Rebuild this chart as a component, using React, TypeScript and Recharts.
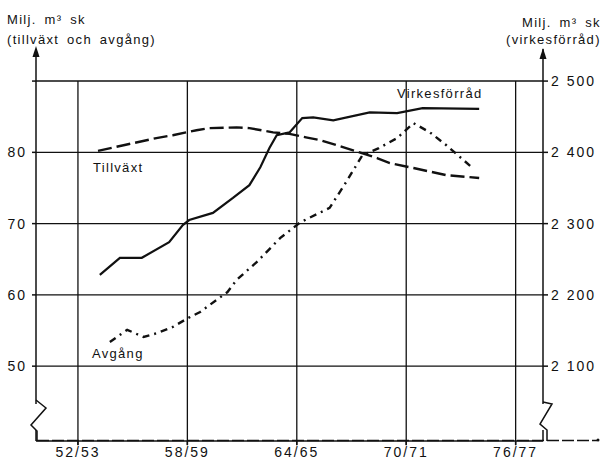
import React from 'react';
import { LineChart, Line, XAxis, YAxis, ReferenceLine } from 'recharts';

// x positions are in "year" units (52.5 = 52/53)
const tickYears = [52.5, 58.5, 64.5, 70.5, 76.5];
const tickLabels = ['52/53', '58/59', '64/65', '70/71', '76/77'];
const leftTicks = [50, 60, 70, 80, 90];
const rightTicks = [2100, 2200, 2300, 2400, 2500];

// Virkesförråd (right axis)
const virkYears = [53.7, 54.8, 56.0, 57.5, 58.25, 58.6, 59.9, 61.0, 61.9, 62.5, 63.0, 63.4, 64.1, 64.8, 65.4, 66.5, 68.5, 70.0, 71.4, 74.5];
const virkValues = [2228, 2252, 2252, 2274, 2298, 2305, 2315, 2336, 2354, 2379, 2406, 2424, 2428, 2448, 2449, 2445, 2456, 2455, 2462, 2461];

// Tillväxt (left axis)
const tillYears = [53.6, 55.0, 56.8, 57.7, 59.0, 59.7, 61.2, 61.9, 63.2, 64.1, 65.0, 65.8, 67.2, 68.9, 69.6, 70.9, 72.7, 74.5];
const tillValues = [80.2, 81.0, 82.0, 82.4, 83.1, 83.4, 83.5, 83.4, 82.8, 82.6, 82.1, 81.7, 80.6, 79.2, 78.5, 77.8, 76.8, 76.4];

// Avgång (left axis)
const avgYears = [54.25, 55.2, 56.1, 56.8, 57.7, 58.5, 59.2, 60.1, 60.7, 61.2, 62.3, 63.6, 64.7, 66.3, 67.2, 68.1, 69.0, 70.0, 70.9, 71.8, 72.7, 74.1];
const avgValues = [53.4, 55.1, 54.1, 54.6, 55.5, 56.7, 57.6, 59.3, 60.4, 62.1, 64.6, 68.0, 70.2, 72.2, 75.8, 79.6, 80.6, 82.0, 84.1, 82.8, 81.0, 77.9];

const toRows = (xs: number[], vs: number[]) => xs.map((x, i) => ({ x, v: vs[i] }));
const virkData = toRows(virkYears, virkValues);
const tillData = toRows(tillYears, tillValues);
const avgData = toRows(avgYears, avgValues);

const font = 'Liberation Sans, Arial, sans-serif';
const ink = '#111';
const tickStyle = { fill: ink, fontSize: 14, fontFamily: font, letterSpacing: 2 };
const textStyle: React.CSSProperties = { fontFamily: font, fontSize: 13, fill: ink, letterSpacing: 1.3, wordSpacing: 3 };

export default function App() {
  return (
    <div style={{ position: 'absolute', left: 0, top: 0, width: 603, height: 463, background: '#fff' }}>
      <LineChart width={603} height={463} margin={{ top: 49, right: 0, bottom: 0, left: 6 }}>
        <XAxis
          type="number"
          dataKey="x"
          domain={[50.2, 78.0]}
          ticks={tickYears}
          tickFormatter={(v: number) => tickLabels[tickYears.indexOf(v)] ?? ''}
          height={22}
          tick={tickStyle}
          tickSize={4}
          tickMargin={2}
          stroke={ink}
          strokeWidth={1.5}
          allowDataOverflow
        />
        <YAxis
          yAxisId="left"
          domain={[39.5, 94.5]}
          ticks={leftTicks}
          tickFormatter={(v: number) => (v === 90 ? '' : String(v))}
          width={30}
          tick={tickStyle}
          tickSize={4}
          tickMargin={5}
          stroke={ink}
          strokeWidth={1.5}
          allowDataOverflow
        />
        <YAxis
          yAxisId="right"
          orientation="right"
          domain={[1995, 2545]}
          ticks={rightTicks}
          tickFormatter={(v: number) => `${String(v)[0]} ${String(v).slice(1)}`}
          width={60}
          tick={tickStyle}
          tickSize={5}
          tickMargin={3}
          stroke={ink}
          strokeWidth={1.5}
          allowDataOverflow
        />
        {leftTicks.map((t) => (
          <ReferenceLine key={'h' + t} yAxisId="left" y={t} stroke={ink} strokeWidth={1.4} />
        ))}
        {tickYears.map((t) => (
          <ReferenceLine
            key={'v' + t}
            yAxisId="left"
            segment={[{ x: t, y: 38.9 }, { x: t, y: 90 }]}
            stroke={ink}
            strokeWidth={1.3}
            ifOverflow="visible"
          />
        ))}
        <Line yAxisId="right" data={virkData} dataKey="v" type="linear" stroke={ink} strokeWidth={2.2} dot={false} isAnimationActive={false} />
        <Line yAxisId="left" data={tillData} dataKey="v" type="linear" stroke={ink} strokeWidth={2.4} strokeDasharray="14 5" dot={false} isAnimationActive={false} />
        <Line yAxisId="left" data={avgData} dataKey="v" type="linear" stroke={ink} strokeWidth={2.4} strokeDasharray="7 5 2 5" dot={false} isAnimationActive={false} />
      </LineChart>
      <svg width={603} height={463} style={{ position: 'absolute', left: 0, top: 0, pointerEvents: 'none' }}>
        <text x={7} y={24} style={textStyle}>Milj. m³ sk</text>
        <text x={7} y={44} style={textStyle}>(tillväxt och avgång)</text>
        <text x={522} y={27} style={textStyle}>Milj. m³ sk</text>
        <text x={506} y={44} style={textStyle}>(virkesförråd)</text>
        <text x={93} y={172} style={textStyle}>Tillväxt</text>
        <text x={92} y={358} style={textStyle}>Avgång</text>
        <text x={397} y={98} style={textStyle}>Virkesförråd</text>
        {/* axis arrows */}
        <polygon points="36,46 32.5,57 39.5,57" fill={ink} />
        <polygon points="543,48 539.5,59 546.5,59" fill={ink} />
        {/* bottom axis line, extended past the right axis */}
        <line x1={37} y1={440.5} x2={597} y2={440.5} stroke={ink} strokeWidth={1.6} strokeDasharray="12 3" />
        <circle cx={598} cy={440} r={1.5} fill={ink} />
        {/* axis breaks */}
        <line x1={36} y1={404} x2={36} y2={430} stroke="#fff" strokeWidth={4} />
        <polyline points="36,400 46,408 31,425 37,431 37,441" fill="none" stroke={ink} strokeWidth={1.5} />
        <line x1={543} y1={404} x2={543} y2={430} stroke="#fff" strokeWidth={4} />
        <polyline points="543,402 552,404 540,424 547,430 547,441" fill="none" stroke={ink} strokeWidth={1.5} />
      </svg>
    </div>
  );
}
